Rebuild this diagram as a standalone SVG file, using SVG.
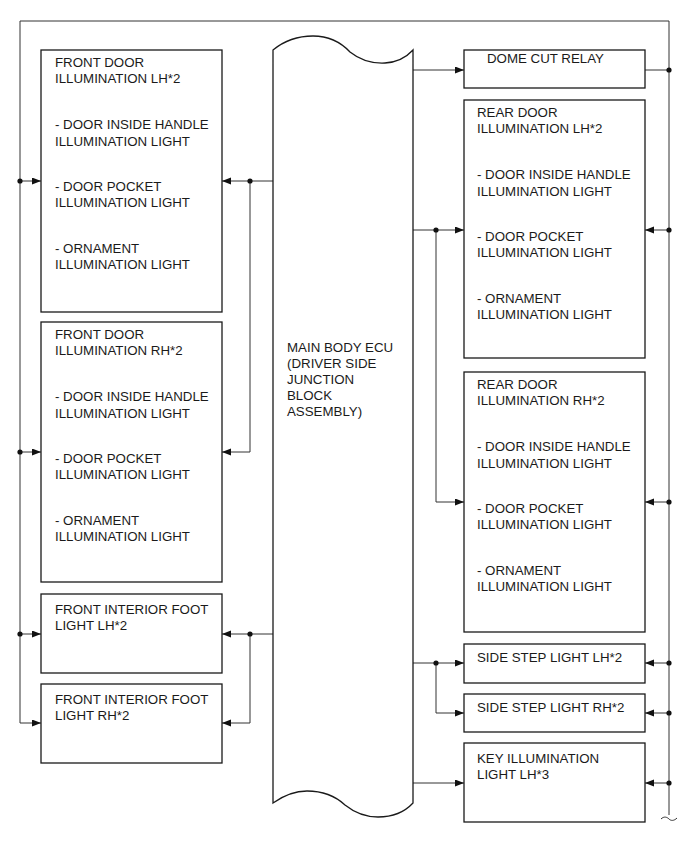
<svg xmlns="http://www.w3.org/2000/svg" width="689" height="853" viewBox="0 0 689 853">
<style>
.box{fill:#fff;stroke:#1a1a1a;stroke-width:1.3}
.t{font-family:"Liberation Sans",Arial,sans-serif;font-size:13.3px;fill:#1a1a1a}
.c{fill:none;stroke:#333;stroke-width:1}
.a{marker-end:url(#ah)}
.d{fill:#111}
</style>
<defs>
<marker id="ah" markerUnits="userSpaceOnUse" markerWidth="10" markerHeight="8" refX="9" refY="3.5" orient="auto">
<path d="M0,0 L9,3.5 L0,7 z" fill="#111"/>
</marker>
</defs>
<rect width="689" height="853" fill="#fff"/>
<g id="connectors">
<path class="c" d="M20,21 L669,21 L669,815"/>
<path class="c a" d="M20,21 L20,723 L41,723"/>
<path class="c a" d="M20,181 L41,181"/>
<path class="c a" d="M20,452 L41,452"/>
<path class="c a" d="M20,634 L41,634"/>
<path class="c a" d="M273,181 L222,181"/>
<path class="c a" d="M250,181 L250,452 L222,452"/>
<path class="c a" d="M273,634 L222,634"/>
<path class="c a" d="M250,634 L250,723 L222,723"/>
<path class="c a" d="M413,70 L464,70"/>
<path class="c a" d="M413,230 L464,230"/>
<path class="c a" d="M436,230 L436,502 L464,502"/>
<path class="c a" d="M413,663 L464,663"/>
<path class="c a" d="M436,663 L436,713 L464,713"/>
<path class="c a" d="M413,783 L464,783"/>
<path class="c" d="M669,70 L645,70"/>
<path class="c a" d="M669,230 L645,230"/>
<path class="c a" d="M669,502 L645,502"/>
<path class="c a" d="M669,663 L645,663"/>
<path class="c a" d="M669,713 L645,713"/>
<path class="c a" d="M669,783 L645,783"/>
<path class="c" d="M661,819 C664,816 667,817 669,819 C671,821 674,821 677,818"/>
<circle class="d" cx="20" cy="181" r="2.6"/>
<circle class="d" cx="20" cy="452" r="2.6"/>
<circle class="d" cx="20" cy="634" r="2.6"/>
<circle class="d" cx="250" cy="181" r="2.6"/>
<circle class="d" cx="250" cy="634" r="2.6"/>
<circle class="d" cx="436" cy="230" r="2.6"/>
<circle class="d" cx="436" cy="663" r="2.6"/>
<circle class="d" cx="669" cy="70" r="2.6"/>
<circle class="d" cx="669" cy="230" r="2.6"/>
<circle class="d" cx="669" cy="502" r="2.6"/>
<circle class="d" cx="669" cy="663" r="2.6"/>
<circle class="d" cx="669" cy="713" r="2.6"/>
<circle class="d" cx="669" cy="783" r="2.6"/>
</g>
<g id="ecu">
<path class="box" d="M273,50 Q290,36 313,36 Q335,36 350,52 Q365,64 385,63 Q402,62 413,50 L413,803 Q400,817 378,817 Q360,817 345,805 Q330,791 307,791 Q290,791 273,803 Z"/>
<text class="t" x="287" y="352">MAIN BODY ECU</text>
<text class="t" x="287" y="368">(DRIVER SIDE</text>
<text class="t" x="287" y="384">JUNCTION</text>
<text class="t" x="287" y="400">BLOCK</text>
<text class="t" x="287" y="416">ASSEMBLY)</text>
</g>
<g id="front-door-lh">
<rect class="box" x="41" y="50" width="181" height="262"/>
<text class="t" x="55" y="67">FRONT DOOR</text>
<text class="t" x="55" y="83">ILLUMINATION LH*2</text>
<text class="t" x="55" y="129">- DOOR INSIDE HANDLE</text>
<text class="t" x="55" y="146">ILLUMINATION LIGHT</text>
<text class="t" x="55" y="191">- DOOR POCKET</text>
<text class="t" x="55" y="207">ILLUMINATION LIGHT</text>
<text class="t" x="55" y="253">- ORNAMENT</text>
<text class="t" x="55" y="269">ILLUMINATION LIGHT</text>
</g>
<g id="front-door-rh">
<rect class="box" x="41" y="322" width="181" height="260"/>
<text class="t" x="55" y="339">FRONT DOOR</text>
<text class="t" x="55" y="355">ILLUMINATION RH*2</text>
<text class="t" x="55" y="401">- DOOR INSIDE HANDLE</text>
<text class="t" x="55" y="418">ILLUMINATION LIGHT</text>
<text class="t" x="55" y="463">- DOOR POCKET</text>
<text class="t" x="55" y="479">ILLUMINATION LIGHT</text>
<text class="t" x="55" y="525">- ORNAMENT</text>
<text class="t" x="55" y="541">ILLUMINATION LIGHT</text>
</g>
<g id="front-foot-lh">
<rect class="box" x="41" y="594" width="181" height="79"/>
<text class="t" x="55" y="614">FRONT INTERIOR FOOT</text>
<text class="t" x="55" y="630">LIGHT LH*2</text>
</g>
<g id="front-foot-rh">
<rect class="box" x="41" y="684" width="181" height="79"/>
<text class="t" x="55" y="704">FRONT INTERIOR FOOT</text>
<text class="t" x="55" y="720">LIGHT RH*2</text>
</g>
<g id="dome-cut-relay">
<rect class="box" x="464" y="50" width="181" height="38"/>
<text class="t" x="487" y="63">DOME CUT RELAY</text>
</g>
<g id="rear-door-lh">
<rect class="box" x="464" y="100" width="181" height="258"/>
<text class="t" x="477" y="117">REAR DOOR</text>
<text class="t" x="477" y="133">ILLUMINATION LH*2</text>
<text class="t" x="477" y="179">- DOOR INSIDE HANDLE</text>
<text class="t" x="477" y="196">ILLUMINATION LIGHT</text>
<text class="t" x="477" y="241">- DOOR POCKET</text>
<text class="t" x="477" y="257">ILLUMINATION LIGHT</text>
<text class="t" x="477" y="303">- ORNAMENT</text>
<text class="t" x="477" y="319">ILLUMINATION LIGHT</text>
</g>
<g id="rear-door-rh">
<rect class="box" x="464" y="372" width="181" height="260"/>
<text class="t" x="477" y="389">REAR DOOR</text>
<text class="t" x="477" y="405">ILLUMINATION RH*2</text>
<text class="t" x="477" y="451">- DOOR INSIDE HANDLE</text>
<text class="t" x="477" y="468">ILLUMINATION LIGHT</text>
<text class="t" x="477" y="513">- DOOR POCKET</text>
<text class="t" x="477" y="529">ILLUMINATION LIGHT</text>
<text class="t" x="477" y="575">- ORNAMENT</text>
<text class="t" x="477" y="591">ILLUMINATION LIGHT</text>
</g>
<g id="side-step-lh">
<rect class="box" x="464" y="644" width="181" height="39"/>
<text class="t" x="477" y="662">SIDE STEP LIGHT LH*2</text>
</g>
<g id="side-step-rh">
<rect class="box" x="464" y="694" width="181" height="38"/>
<text class="t" x="477" y="712">SIDE STEP LIGHT RH*2</text>
</g>
<g id="key-illumination">
<rect class="box" x="464" y="743" width="181" height="79"/>
<text class="t" x="477" y="763">KEY ILLUMINATION</text>
<text class="t" x="477" y="779">LIGHT LH*3</text>
</g>
</svg>
